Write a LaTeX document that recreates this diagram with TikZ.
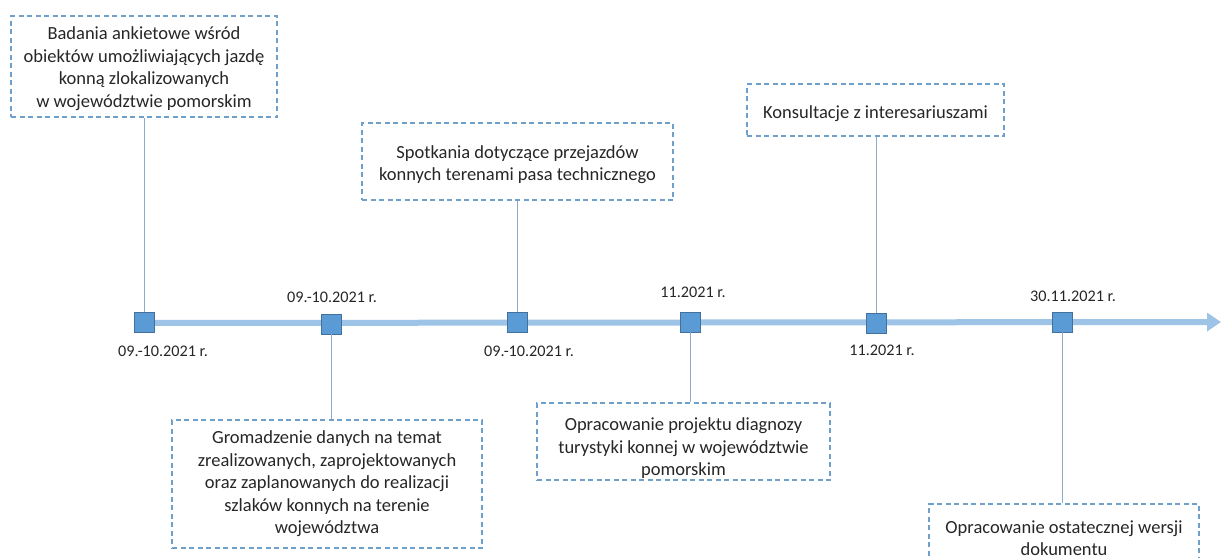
\documentclass[tikz,border=0pt]{standalone}
\usepackage{fontspec}
\setmainfont{Carlito}
\usetikzlibrary{arrows.meta}
\definecolor{lineblue}{HTML}{9DC3E6}
\definecolor{sqfill}{HTML}{5B9BD5}
\definecolor{sqdraw}{HTML}{41719C}
\definecolor{dashblue}{HTML}{6FA0CC}
\definecolor{connblue}{HTML}{8EAACB}
\newcommand\topstrut[1]{\rule{0pt}{#1}}
\tikzset{
  box/.style={draw=dashblue, line width=1.1pt, dash pattern=on 5pt off 3.5pt, align=center, inner sep=0pt,
    font=\fontsize{18.5}{22.5}\selectfont, text=black!85},
  sq/.style={draw=sqdraw, fill=sqfill, line width=0.8pt, minimum size=20pt, inner sep=0pt},
  datelbl/.style={font=\fontsize{16.2}{18}\selectfont, text=black!85, inner sep=0pt},
  conn/.style={draw=connblue, line width=0.9pt},
  timeline/.style={draw=lineblue, line width=6pt, -{Triangle[length=14pt,width=18pt]}}
}
\begin{document}
\begin{tikzpicture}[x=1pt,y=-1pt]
\useasboundingbox (0,0) rectangle (1221,557);
% timeline
\coordinate (tstart) at (144,323);
\coordinate (tend) at (1221,322);
\draw[timeline] (tstart) -- (tend);
% squares
\node[sq] (s1) at (144,322) {};
\node[sq] (s2) at (331,324) {};
\node[sq] (s3) at (517,322) {};
\node[sq] (s4) at (690,322) {};
\node[sq] (s5) at (876,323) {};
\node[sq] (s6) at (1062,322) {};
% boxes
\node[box, minimum width=266pt, minimum height=101pt] (b1) at (144,66.5)
  {\topstrut{17pt}Badania ankietowe wśród\\obiektów umożliwiających jazdę\\konną zlokalizowanych\\w województwie pomorskim};
\node[box, minimum width=310pt, minimum height=128pt] (b2) at (327,484)
  {Gromadzenie danych na temat\\zrealizowanych, zaprojektowanych\\oraz zaplanowanych do realizacji\\szlaków konnych na terenie\\województwa};
\node[box, minimum width=311pt, minimum height=77pt] (b3) at (517.5,161.5)
  {\topstrut{19pt}Spotkania dotyczące przejazdów\\konnych terenami pasa technicznego};
\node[box, minimum width=293pt, minimum height=77pt] (b4) at (683.5,441.5)
  {\topstrut{26pt}Opracowanie projektu diagnozy\\turystyki konnej w województwie\\pomorskim};
\node[box, minimum width=257pt, minimum height=52pt] (b5) at (875.5,110)
  {\topstrut{21pt}Konsultacje z interesariuszami};
\node[box, minimum width=270pt, minimum height=68pt] (b6) at (1064,538)
  {Opracowanie ostatecznej wersji\\dokumentu};
% connectors
\draw[conn] (s1.north) -- (s1.north |- b1.south);
\draw[conn] (s2.south) -- (s2.south |- b2.north);
\draw[conn] (s3.north) -- (s3.north |- b3.south);
\draw[conn] (s4.south) -- (s4.south |- b4.north);
\draw[conn] (s5.north) -- (s5.north |- b5.south);
\draw[conn] (s6.south) -- (s6.south |- b6.north);
% dates
\node[datelbl] (d1) at (163,351) {09.-10.2021 r.};
\node[datelbl] (d2) at (332,297) {09.-10.2021 r.};
\node[datelbl] (d3) at (529,351) {09.-10.2021 r.};
\node[datelbl] (d4) at (693,292) {11.2021 r.};
\node[datelbl] (d5) at (882,350) {11.2021 r.};
\node[datelbl] (d6) at (1073,296) {30.11.2021 r.};
\end{tikzpicture}
\end{document}
